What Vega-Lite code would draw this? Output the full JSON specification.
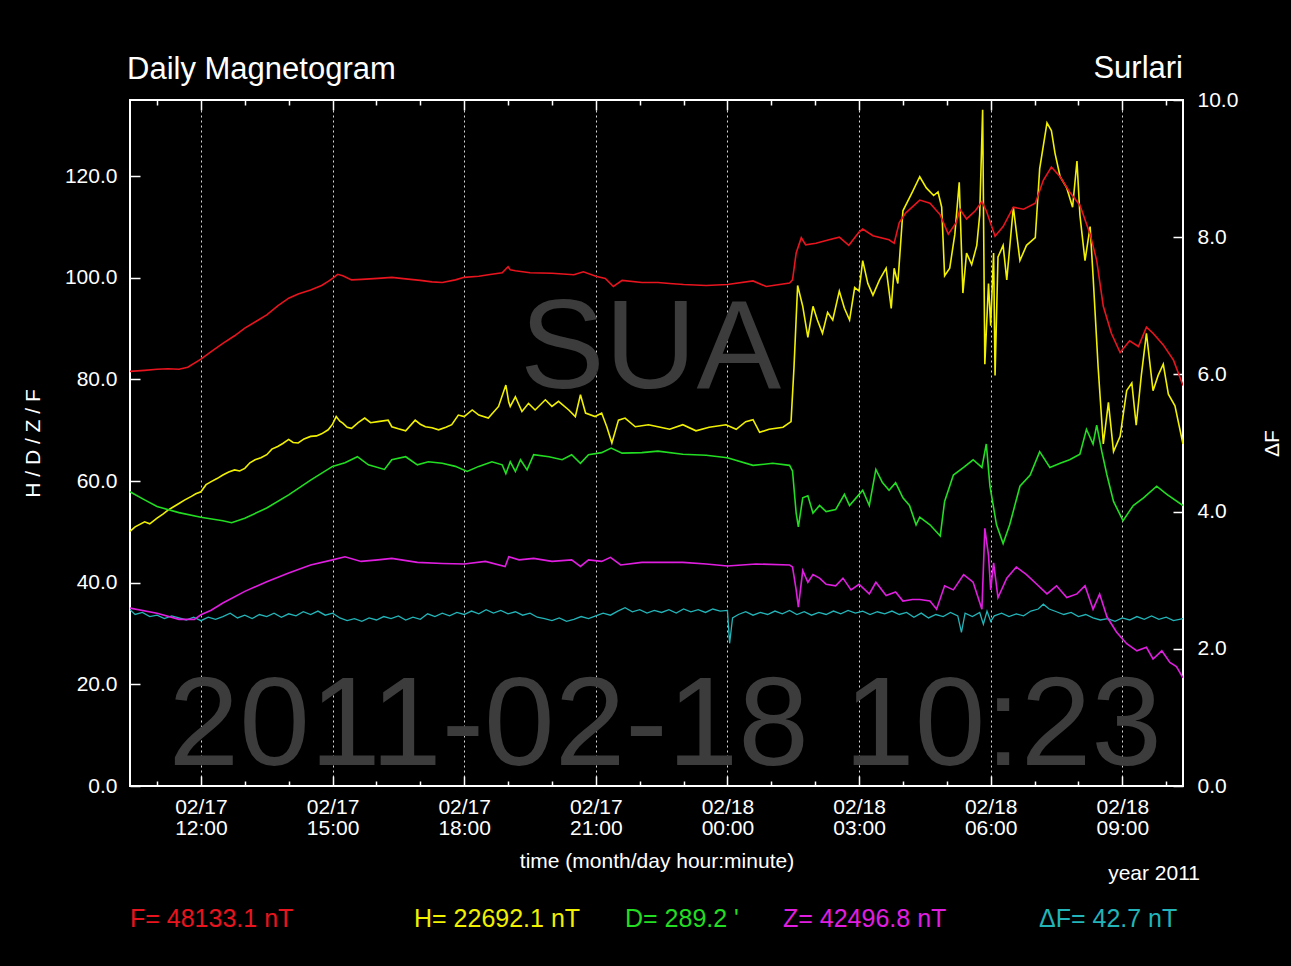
{
  "$schema": "https://vega.github.io/schema/vega-lite/v6.json",
  "width": 1053,
  "height": 686,
  "autosize": {"type": "none"},
  "padding": {"left": 130, "top": 100, "right": 108, "bottom": 180},
  "background": "#000000",
  "title": {"text": "Daily Magnetogram", "anchor": "start", "frame": "group", "baseline": "alphabetic", "fontSize": 31, "fontWeight": "normal", "font": "Liberation Sans", "color": "#ffffff", "offset": -57, "dx": -3},
  "config": {"font": "Liberation Sans", "view": {"stroke": "#ffffff", "strokeWidth": 2}},
  "datasets": {
    "m": [
      {"t":"2011-02-17T10:23","s":"H","v":50.1},{"t":"2011-02-17T10:30","s":"H","v":51.0},{"t":"2011-02-17T10:43","s":"H","v":52.0},{"t":"2011-02-17T10:50","s":"H","v":51.6},{"t":"2011-02-17T11:00","s":"H","v":52.7},{"t":"2011-02-17T11:08","s":"H","v":53.5},{"t":"2011-02-17T11:15","s":"H","v":54.3},{"t":"2011-02-17T11:22","s":"H","v":54.9},{"t":"2011-02-17T11:30","s":"H","v":55.6},{"t":"2011-02-17T11:38","s":"H","v":56.3},{"t":"2011-02-17T11:47","s":"H","v":57.0},{"t":"2011-02-17T11:53","s":"H","v":57.5},{"t":"2011-02-17T12:00","s":"H","v":57.9},{"t":"2011-02-17T12:07","s":"H","v":59.3},{"t":"2011-02-17T12:14","s":"H","v":59.9},{"t":"2011-02-17T12:22","s":"H","v":60.5},{"t":"2011-02-17T12:30","s":"H","v":61.2},{"t":"2011-02-17T12:38","s":"H","v":61.8},{"t":"2011-02-17T12:46","s":"H","v":62.2},{"t":"2011-02-17T12:53","s":"H","v":62.0},{"t":"2011-02-17T13:00","s":"H","v":62.5},{"t":"2011-02-17T13:07","s":"H","v":63.6},{"t":"2011-02-17T13:14","s":"H","v":64.2},{"t":"2011-02-17T13:22","s":"H","v":64.6},{"t":"2011-02-17T13:30","s":"H","v":65.2},{"t":"2011-02-17T13:37","s":"H","v":66.3},{"t":"2011-02-17T13:45","s":"H","v":66.8},{"t":"2011-02-17T13:52","s":"H","v":67.4},{"t":"2011-02-17T14:00","s":"H","v":68.2},{"t":"2011-02-17T14:06","s":"H","v":67.6},{"t":"2011-02-17T14:13","s":"H","v":67.5},{"t":"2011-02-17T14:21","s":"H","v":68.3},{"t":"2011-02-17T14:30","s":"H","v":68.8},{"t":"2011-02-17T14:38","s":"H","v":68.9},{"t":"2011-02-17T14:45","s":"H","v":69.3},{"t":"2011-02-17T14:54","s":"H","v":70.1},{"t":"2011-02-17T15:00","s":"H","v":71.2},{"t":"2011-02-17T15:05","s":"H","v":72.7},{"t":"2011-02-17T15:10","s":"H","v":71.8},{"t":"2011-02-17T15:14","s":"H","v":71.4},{"t":"2011-02-17T15:20","s":"H","v":70.6},{"t":"2011-02-17T15:26","s":"H","v":70.4},{"t":"2011-02-17T15:35","s":"H","v":71.5},{"t":"2011-02-17T15:44","s":"H","v":72.4},{"t":"2011-02-17T15:52","s":"H","v":71.5},{"t":"2011-02-17T16:02","s":"H","v":71.7},{"t":"2011-02-17T16:16","s":"H","v":72.0},{"t":"2011-02-17T16:21","s":"H","v":70.7},{"t":"2011-02-17T16:30","s":"H","v":70.3},{"t":"2011-02-17T16:40","s":"H","v":69.9},{"t":"2011-02-17T16:53","s":"H","v":72.0},{"t":"2011-02-17T17:00","s":"H","v":71.2},{"t":"2011-02-17T17:07","s":"H","v":70.7},{"t":"2011-02-17T17:16","s":"H","v":70.5},{"t":"2011-02-17T17:25","s":"H","v":70.1},{"t":"2011-02-17T17:35","s":"H","v":70.6},{"t":"2011-02-17T17:43","s":"H","v":71.1},{"t":"2011-02-17T17:52","s":"H","v":73.0},{"t":"2011-02-17T18:00","s":"H","v":72.7},{"t":"2011-02-17T18:11","s":"H","v":74.0},{"t":"2011-02-17T18:20","s":"H","v":73.0},{"t":"2011-02-17T18:33","s":"H","v":72.4},{"t":"2011-02-17T18:47","s":"H","v":74.7},{"t":"2011-02-17T18:57","s":"H","v":78.9},{"t":"2011-02-17T19:01","s":"H","v":75.5},{"t":"2011-02-17T19:03","s":"H","v":74.7},{"t":"2011-02-17T19:10","s":"H","v":76.6},{"t":"2011-02-17T19:19","s":"H","v":73.7},{"t":"2011-02-17T19:28","s":"H","v":75.3},{"t":"2011-02-17T19:37","s":"H","v":74.0},{"t":"2011-02-17T19:51","s":"H","v":76.0},{"t":"2011-02-17T20:00","s":"H","v":74.7},{"t":"2011-02-17T20:09","s":"H","v":75.7},{"t":"2011-02-17T20:23","s":"H","v":74.0},{"t":"2011-02-17T20:32","s":"H","v":72.7},{"t":"2011-02-17T20:39","s":"H","v":77.0},{"t":"2011-02-17T20:46","s":"H","v":73.4},{"t":"2011-02-17T20:59","s":"H","v":72.7},{"t":"2011-02-17T21:08","s":"H","v":73.4},{"t":"2011-02-17T21:15","s":"H","v":70.7},{"t":"2011-02-17T21:22","s":"H","v":67.5},{"t":"2011-02-17T21:31","s":"H","v":72.0},{"t":"2011-02-17T21:40","s":"H","v":72.4},{"t":"2011-02-17T21:54","s":"H","v":70.7},{"t":"2011-02-17T22:12","s":"H","v":71.1},{"t":"2011-02-17T22:25","s":"H","v":70.7},{"t":"2011-02-17T22:41","s":"H","v":70.2},{"t":"2011-02-17T22:59","s":"H","v":71.1},{"t":"2011-02-17T23:17","s":"H","v":69.9},{"t":"2011-02-17T23:35","s":"H","v":70.6},{"t":"2011-02-17T23:58","s":"H","v":71.1},{"t":"2011-02-18T00:12","s":"H","v":70.2},{"t":"2011-02-18T00:25","s":"H","v":71.7},{"t":"2011-02-18T00:35","s":"H","v":72.1},{"t":"2011-02-18T00:44","s":"H","v":69.6},{"t":"2011-02-18T00:57","s":"H","v":70.2},{"t":"2011-02-18T01:16","s":"H","v":70.6},{"t":"2011-02-18T01:27","s":"H","v":71.7},{"t":"2011-02-18T01:31","s":"H","v":82.3},{"t":"2011-02-18T01:36","s":"H","v":98.5},{"t":"2011-02-18T01:43","s":"H","v":94.4},{"t":"2011-02-18T01:50","s":"H","v":88.3},{"t":"2011-02-18T01:57","s":"H","v":94.4},{"t":"2011-02-18T02:03","s":"H","v":91.7},{"t":"2011-02-18T02:10","s":"H","v":89.1},{"t":"2011-02-18T02:17","s":"H","v":93.2},{"t":"2011-02-18T02:24","s":"H","v":91.7},{"t":"2011-02-18T02:33","s":"H","v":97.4},{"t":"2011-02-18T02:40","s":"H","v":94.0},{"t":"2011-02-18T02:47","s":"H","v":91.7},{"t":"2011-02-18T02:54","s":"H","v":98.1},{"t":"2011-02-18T03:00","s":"H","v":97.4},{"t":"2011-02-18T03:05","s":"H","v":103.4},{"t":"2011-02-18T03:12","s":"H","v":98.9},{"t":"2011-02-18T03:19","s":"H","v":96.6},{"t":"2011-02-18T03:28","s":"H","v":99.6},{"t":"2011-02-18T03:37","s":"H","v":101.9},{"t":"2011-02-18T03:44","s":"H","v":94.0},{"t":"2011-02-18T03:48","s":"H","v":101.9},{"t":"2011-02-18T03:53","s":"H","v":98.9},{"t":"2011-02-18T04:00","s":"H","v":113.2},{"t":"2011-02-18T04:13","s":"H","v":116.9},{"t":"2011-02-18T04:23","s":"H","v":119.9},{"t":"2011-02-18T04:32","s":"H","v":117.7},{"t":"2011-02-18T04:42","s":"H","v":116.2},{"t":"2011-02-18T04:48","s":"H","v":116.9},{"t":"2011-02-18T04:53","s":"H","v":113.9},{"t":"2011-02-18T04:57","s":"H","v":100.4},{"t":"2011-02-18T05:04","s":"H","v":101.9},{"t":"2011-02-18T05:11","s":"H","v":108.6},{"t":"2011-02-18T05:17","s":"H","v":118.8},{"t":"2011-02-18T05:22","s":"H","v":97.0},{"t":"2011-02-18T05:27","s":"H","v":104.9},{"t":"2011-02-18T05:34","s":"H","v":102.6},{"t":"2011-02-18T05:41","s":"H","v":106.4},{"t":"2011-02-18T05:45","s":"H","v":112.4},{"t":"2011-02-18T05:49","s":"H","v":133.1},{"t":"2011-02-18T05:52","s":"H","v":83.0},{"t":"2011-02-18T05:57","s":"H","v":98.9},{"t":"2011-02-18T06:00","s":"H","v":90.6},{"t":"2011-02-18T06:04","s":"H","v":104.9},{"t":"2011-02-18T06:06","s":"H","v":80.8},{"t":"2011-02-18T06:10","s":"H","v":104.1},{"t":"2011-02-18T06:17","s":"H","v":106.4},{"t":"2011-02-18T06:22","s":"H","v":99.6},{"t":"2011-02-18T06:31","s":"H","v":113.9},{"t":"2011-02-18T06:40","s":"H","v":103.4},{"t":"2011-02-18T06:49","s":"H","v":106.4},{"t":"2011-02-18T07:01","s":"H","v":107.9},{"t":"2011-02-18T07:07","s":"H","v":121.5},{"t":"2011-02-18T07:17","s":"H","v":130.5},{"t":"2011-02-18T07:23","s":"H","v":129.0},{"t":"2011-02-18T07:28","s":"H","v":124.5},{"t":"2011-02-18T07:35","s":"H","v":119.9},{"t":"2011-02-18T07:44","s":"H","v":117.7},{"t":"2011-02-18T07:52","s":"H","v":113.9},{"t":"2011-02-18T07:58","s":"H","v":123.0},{"t":"2011-02-18T08:02","s":"H","v":112.4},{"t":"2011-02-18T08:09","s":"H","v":103.4},{"t":"2011-02-18T08:16","s":"H","v":110.1},{"t":"2011-02-18T08:20","s":"H","v":100.4},{"t":"2011-02-18T08:27","s":"H","v":82.3},{"t":"2011-02-18T08:34","s":"H","v":67.3},{"t":"2011-02-18T08:41","s":"H","v":75.5},{"t":"2011-02-18T08:48","s":"H","v":65.8},{"t":"2011-02-18T08:57","s":"H","v":68.8},{"t":"2011-02-18T09:06","s":"H","v":77.8},{"t":"2011-02-18T09:13","s":"H","v":79.3},{"t":"2011-02-18T09:19","s":"H","v":71.0},{"t":"2011-02-18T09:26","s":"H","v":80.8},{"t":"2011-02-18T09:33","s":"H","v":89.1},{"t":"2011-02-18T09:42","s":"H","v":77.8},{"t":"2011-02-18T09:49","s":"H","v":80.8},{"t":"2011-02-18T09:56","s":"H","v":83.0},{"t":"2011-02-18T10:03","s":"H","v":77.1},{"t":"2011-02-18T10:12","s":"H","v":74.8},{"t":"2011-02-18T10:23","s":"H","v":67.3},

      {"t":"2011-02-17T10:23","s":"D","v":57.9},{"t":"2011-02-17T10:43","s":"D","v":56.3},{"t":"2011-02-17T11:00","s":"D","v":55.0},{"t":"2011-02-17T11:30","s":"D","v":53.8},{"t":"2011-02-17T12:00","s":"D","v":52.9},{"t":"2011-02-17T12:30","s":"D","v":52.2},{"t":"2011-02-17T12:42","s":"D","v":51.8},{"t":"2011-02-17T13:00","s":"D","v":52.7},{"t":"2011-02-17T13:30","s":"D","v":54.7},{"t":"2011-02-17T14:00","s":"D","v":57.3},{"t":"2011-02-17T14:30","s":"D","v":60.2},{"t":"2011-02-17T15:00","s":"D","v":62.9},{"t":"2011-02-17T15:17","s":"D","v":63.6},{"t":"2011-02-17T15:34","s":"D","v":64.8},{"t":"2011-02-17T15:49","s":"D","v":63.2},{"t":"2011-02-17T16:11","s":"D","v":62.3},{"t":"2011-02-17T16:21","s":"D","v":64.2},{"t":"2011-02-17T16:40","s":"D","v":64.8},{"t":"2011-02-17T16:56","s":"D","v":63.2},{"t":"2011-02-17T17:11","s":"D","v":63.8},{"t":"2011-02-17T17:30","s":"D","v":63.5},{"t":"2011-02-17T17:48","s":"D","v":62.9},{"t":"2011-02-17T18:04","s":"D","v":61.9},{"t":"2011-02-17T18:20","s":"D","v":62.9},{"t":"2011-02-17T18:38","s":"D","v":63.8},{"t":"2011-02-17T18:52","s":"D","v":63.2},{"t":"2011-02-17T18:57","s":"D","v":61.5},{"t":"2011-02-17T19:03","s":"D","v":63.8},{"t":"2011-02-17T19:10","s":"D","v":61.9},{"t":"2011-02-17T19:17","s":"D","v":64.2},{"t":"2011-02-17T19:26","s":"D","v":62.2},{"t":"2011-02-17T19:35","s":"D","v":65.2},{"t":"2011-02-17T19:56","s":"D","v":64.8},{"t":"2011-02-17T20:14","s":"D","v":64.2},{"t":"2011-02-17T20:27","s":"D","v":65.2},{"t":"2011-02-17T20:39","s":"D","v":63.5},{"t":"2011-02-17T20:50","s":"D","v":65.2},{"t":"2011-02-17T21:08","s":"D","v":65.6},{"t":"2011-02-17T21:21","s":"D","v":66.5},{"t":"2011-02-17T21:36","s":"D","v":65.5},{"t":"2011-02-17T22:03","s":"D","v":65.6},{"t":"2011-02-17T22:25","s":"D","v":65.9},{"t":"2011-02-17T22:59","s":"D","v":65.3},{"t":"2011-02-17T23:31","s":"D","v":65.1},{"t":"2011-02-18T00:00","s":"D","v":64.6},{"t":"2011-02-18T00:35","s":"D","v":63.1},{"t":"2011-02-18T01:02","s":"D","v":63.5},{"t":"2011-02-18T01:25","s":"D","v":63.1},{"t":"2011-02-18T01:29","s":"D","v":62.0},{"t":"2011-02-18T01:34","s":"D","v":53.7},{"t":"2011-02-18T01:37","s":"D","v":51.0},{"t":"2011-02-18T01:43","s":"D","v":56.7},{"t":"2011-02-18T01:50","s":"D","v":57.1},{"t":"2011-02-18T01:57","s":"D","v":53.7},{"t":"2011-02-18T02:06","s":"D","v":55.2},{"t":"2011-02-18T02:15","s":"D","v":54.0},{"t":"2011-02-18T02:28","s":"D","v":54.4},{"t":"2011-02-18T02:40","s":"D","v":57.4},{"t":"2011-02-18T02:47","s":"D","v":55.2},{"t":"2011-02-18T02:56","s":"D","v":56.7},{"t":"2011-02-18T03:05","s":"D","v":58.2},{"t":"2011-02-18T03:14","s":"D","v":55.2},{"t":"2011-02-18T03:23","s":"D","v":62.3},{"t":"2011-02-18T03:32","s":"D","v":59.7},{"t":"2011-02-18T03:41","s":"D","v":58.2},{"t":"2011-02-18T03:50","s":"D","v":59.7},{"t":"2011-02-18T04:00","s":"D","v":56.7},{"t":"2011-02-18T04:09","s":"D","v":55.2},{"t":"2011-02-18T04:18","s":"D","v":51.4},{"t":"2011-02-18T04:23","s":"D","v":52.9},{"t":"2011-02-18T04:37","s":"D","v":51.4},{"t":"2011-02-18T04:51","s":"D","v":49.2},{"t":"2011-02-18T04:57","s":"D","v":56.0},{"t":"2011-02-18T05:09","s":"D","v":61.2},{"t":"2011-02-18T05:23","s":"D","v":62.7},{"t":"2011-02-18T05:36","s":"D","v":64.2},{"t":"2011-02-18T05:48","s":"D","v":62.7},{"t":"2011-02-18T05:54","s":"D","v":67.3},{"t":"2011-02-18T05:59","s":"D","v":59.0},{"t":"2011-02-18T06:08","s":"D","v":51.4},{"t":"2011-02-18T06:17","s":"D","v":47.7},{"t":"2011-02-18T06:26","s":"D","v":51.4},{"t":"2011-02-18T06:40","s":"D","v":59.0},{"t":"2011-02-18T06:54","s":"D","v":61.2},{"t":"2011-02-18T07:07","s":"D","v":65.8},{"t":"2011-02-18T07:21","s":"D","v":62.7},{"t":"2011-02-18T07:35","s":"D","v":63.5},{"t":"2011-02-18T07:48","s":"D","v":64.2},{"t":"2011-02-18T08:02","s":"D","v":65.3},{"t":"2011-02-18T08:11","s":"D","v":70.2},{"t":"2011-02-18T08:20","s":"D","v":67.3},{"t":"2011-02-18T08:25","s":"D","v":71.0},{"t":"2011-02-18T08:32","s":"D","v":65.8},{"t":"2011-02-18T08:39","s":"D","v":61.2},{"t":"2011-02-18T08:48","s":"D","v":56.0},{"t":"2011-02-18T09:01","s":"D","v":52.2},{"t":"2011-02-18T09:15","s":"D","v":55.2},{"t":"2011-02-18T09:29","s":"D","v":56.7},{"t":"2011-02-18T09:47","s":"D","v":59.0},{"t":"2011-02-18T10:01","s":"D","v":57.4},{"t":"2011-02-18T10:23","s":"D","v":55.2},

      {"t":"2011-02-17T10:23","s":"Z","v":35.0},{"t":"2011-02-17T11:00","s":"Z","v":34.0},{"t":"2011-02-17T11:30","s":"Z","v":32.8},{"t":"2011-02-17T11:51","s":"Z","v":32.8},{"t":"2011-02-17T12:00","s":"Z","v":33.7},{"t":"2011-02-17T12:14","s":"Z","v":34.6},{"t":"2011-02-17T12:30","s":"Z","v":36.0},{"t":"2011-02-17T13:00","s":"Z","v":38.3},{"t":"2011-02-17T13:30","s":"Z","v":40.2},{"t":"2011-02-17T14:00","s":"Z","v":41.9},{"t":"2011-02-17T14:30","s":"Z","v":43.5},{"t":"2011-02-17T15:00","s":"Z","v":44.5},{"t":"2011-02-17T15:17","s":"Z","v":45.1},{"t":"2011-02-17T15:39","s":"Z","v":44.2},{"t":"2011-02-17T16:02","s":"Z","v":44.5},{"t":"2011-02-17T16:21","s":"Z","v":44.8},{"t":"2011-02-17T16:56","s":"Z","v":44.0},{"t":"2011-02-17T17:30","s":"Z","v":43.8},{"t":"2011-02-17T18:00","s":"Z","v":43.7},{"t":"2011-02-17T18:29","s":"Z","v":44.2},{"t":"2011-02-17T18:56","s":"Z","v":43.2},{"t":"2011-02-17T19:01","s":"Z","v":45.1},{"t":"2011-02-17T19:15","s":"Z","v":44.5},{"t":"2011-02-17T19:35","s":"Z","v":44.8},{"t":"2011-02-17T20:00","s":"Z","v":44.2},{"t":"2011-02-17T20:27","s":"Z","v":44.5},{"t":"2011-02-17T20:39","s":"Z","v":43.2},{"t":"2011-02-17T20:50","s":"Z","v":44.5},{"t":"2011-02-17T21:08","s":"Z","v":44.2},{"t":"2011-02-17T21:20","s":"Z","v":45.0},{"t":"2011-02-17T21:34","s":"Z","v":43.5},{"t":"2011-02-17T22:03","s":"Z","v":44.0},{"t":"2011-02-17T22:59","s":"Z","v":44.0},{"t":"2011-02-17T23:31","s":"Z","v":43.7},{"t":"2011-02-18T00:00","s":"Z","v":43.3},{"t":"2011-02-18T00:39","s":"Z","v":43.7},{"t":"2011-02-18T01:25","s":"Z","v":43.5},{"t":"2011-02-18T01:29","s":"Z","v":43.1},{"t":"2011-02-18T01:34","s":"Z","v":38.6},{"t":"2011-02-18T01:37","s":"Z","v":35.2},{"t":"2011-02-18T01:43","s":"Z","v":42.4},{"t":"2011-02-18T01:50","s":"Z","v":40.1},{"t":"2011-02-18T01:57","s":"Z","v":41.6},{"t":"2011-02-18T02:06","s":"Z","v":40.9},{"t":"2011-02-18T02:15","s":"Z","v":39.7},{"t":"2011-02-18T02:28","s":"Z","v":39.4},{"t":"2011-02-18T02:38","s":"Z","v":40.9},{"t":"2011-02-18T02:49","s":"Z","v":38.6},{"t":"2011-02-18T03:00","s":"Z","v":39.7},{"t":"2011-02-18T03:14","s":"Z","v":37.8},{"t":"2011-02-18T03:23","s":"Z","v":40.1},{"t":"2011-02-18T03:37","s":"Z","v":37.5},{"t":"2011-02-18T03:50","s":"Z","v":38.2},{"t":"2011-02-18T04:00","s":"Z","v":36.4},{"t":"2011-02-18T04:13","s":"Z","v":36.7},{"t":"2011-02-18T04:23","s":"Z","v":36.7},{"t":"2011-02-18T04:37","s":"Z","v":36.4},{"t":"2011-02-18T04:46","s":"Z","v":34.8},{"t":"2011-02-18T04:57","s":"Z","v":39.4},{"t":"2011-02-18T05:09","s":"Z","v":38.6},{"t":"2011-02-18T05:23","s":"Z","v":41.6},{"t":"2011-02-18T05:36","s":"Z","v":40.1},{"t":"2011-02-18T05:48","s":"Z","v":34.8},{"t":"2011-02-18T05:52","s":"Z","v":50.7},{"t":"2011-02-18T05:57","s":"Z","v":45.4},{"t":"2011-02-18T06:00","s":"Z","v":38.6},{"t":"2011-02-18T06:04","s":"Z","v":43.9},{"t":"2011-02-18T06:10","s":"Z","v":37.1},{"t":"2011-02-18T06:22","s":"Z","v":40.9},{"t":"2011-02-18T06:35","s":"Z","v":43.1},{"t":"2011-02-18T06:49","s":"Z","v":41.6},{"t":"2011-02-18T07:03","s":"Z","v":39.7},{"t":"2011-02-18T07:17","s":"Z","v":37.8},{"t":"2011-02-18T07:30","s":"Z","v":39.4},{"t":"2011-02-18T07:44","s":"Z","v":37.1},{"t":"2011-02-18T07:58","s":"Z","v":37.8},{"t":"2011-02-18T08:09","s":"Z","v":39.4},{"t":"2011-02-18T08:20","s":"Z","v":34.8},{"t":"2011-02-18T08:29","s":"Z","v":37.8},{"t":"2011-02-18T08:39","s":"Z","v":33.3},{"t":"2011-02-18T08:52","s":"Z","v":30.3},{"t":"2011-02-18T09:06","s":"Z","v":28.0},{"t":"2011-02-18T09:20","s":"Z","v":26.6},{"t":"2011-02-18T09:33","s":"Z","v":27.3},{"t":"2011-02-18T09:42","s":"Z","v":25.0},{"t":"2011-02-18T09:54","s":"Z","v":26.6},{"t":"2011-02-18T10:05","s":"Z","v":24.3},{"t":"2011-02-18T10:14","s":"Z","v":23.5},{"t":"2011-02-18T10:23","s":"Z","v":21.3},

      {"t":"2011-02-17T10:23","s":"F","v":81.6},{"t":"2011-02-17T10:43","s":"F","v":81.8},{"t":"2011-02-17T11:00","s":"F","v":82.0},{"t":"2011-02-17T11:15","s":"F","v":82.1},{"t":"2011-02-17T11:30","s":"F","v":82.0},{"t":"2011-02-17T11:42","s":"F","v":82.4},{"t":"2011-02-17T12:00","s":"F","v":84.0},{"t":"2011-02-17T12:14","s":"F","v":85.5},{"t":"2011-02-17T12:30","s":"F","v":87.1},{"t":"2011-02-17T12:46","s":"F","v":88.6},{"t":"2011-02-17T13:00","s":"F","v":90.1},{"t":"2011-02-17T13:14","s":"F","v":91.3},{"t":"2011-02-17T13:30","s":"F","v":92.7},{"t":"2011-02-17T13:45","s":"F","v":94.5},{"t":"2011-02-17T14:00","s":"F","v":96.0},{"t":"2011-02-17T14:13","s":"F","v":96.8},{"t":"2011-02-17T14:30","s":"F","v":97.6},{"t":"2011-02-17T14:45","s":"F","v":98.5},{"t":"2011-02-17T14:54","s":"F","v":99.3},{"t":"2011-02-17T15:00","s":"F","v":99.9},{"t":"2011-02-17T15:07","s":"F","v":100.7},{"t":"2011-02-17T15:14","s":"F","v":100.4},{"t":"2011-02-17T15:26","s":"F","v":99.6},{"t":"2011-02-17T15:40","s":"F","v":99.7},{"t":"2011-02-17T16:02","s":"F","v":99.9},{"t":"2011-02-17T16:21","s":"F","v":100.1},{"t":"2011-02-17T16:40","s":"F","v":99.8},{"t":"2011-02-17T17:00","s":"F","v":99.5},{"t":"2011-02-17T17:16","s":"F","v":99.2},{"t":"2011-02-17T17:30","s":"F","v":99.1},{"t":"2011-02-17T17:48","s":"F","v":99.6},{"t":"2011-02-17T18:00","s":"F","v":100.1},{"t":"2011-02-17T18:20","s":"F","v":100.3},{"t":"2011-02-17T18:33","s":"F","v":100.6},{"t":"2011-02-17T18:52","s":"F","v":101.0},{"t":"2011-02-17T19:00","s":"F","v":102.2},{"t":"2011-02-17T19:03","s":"F","v":101.6},{"t":"2011-02-17T19:10","s":"F","v":101.4},{"t":"2011-02-17T19:30","s":"F","v":101.0},{"t":"2011-02-17T20:00","s":"F","v":100.9},{"t":"2011-02-17T20:30","s":"F","v":100.6},{"t":"2011-02-17T20:43","s":"F","v":101.2},{"t":"2011-02-17T21:00","s":"F","v":100.3},{"t":"2011-02-17T21:13","s":"F","v":99.9},{"t":"2011-02-17T21:24","s":"F","v":98.3},{"t":"2011-02-17T21:36","s":"F","v":99.5},{"t":"2011-02-17T22:03","s":"F","v":99.1},{"t":"2011-02-17T22:25","s":"F","v":99.1},{"t":"2011-02-17T22:41","s":"F","v":98.9},{"t":"2011-02-17T23:00","s":"F","v":98.7},{"t":"2011-02-17T23:31","s":"F","v":98.5},{"t":"2011-02-18T00:00","s":"F","v":98.7},{"t":"2011-02-18T00:35","s":"F","v":99.4},{"t":"2011-02-18T00:53","s":"F","v":98.3},{"t":"2011-02-18T01:25","s":"F","v":99.0},{"t":"2011-02-18T01:29","s":"F","v":99.6},{"t":"2011-02-18T01:34","s":"F","v":104.9},{"t":"2011-02-18T01:41","s":"F","v":107.9},{"t":"2011-02-18T01:47","s":"F","v":106.5},{"t":"2011-02-18T02:01","s":"F","v":106.8},{"t":"2011-02-18T02:19","s":"F","v":107.5},{"t":"2011-02-18T02:33","s":"F","v":108.0},{"t":"2011-02-18T02:46","s":"F","v":106.4},{"t":"2011-02-18T03:00","s":"F","v":109.0},{"t":"2011-02-18T03:05","s":"F","v":109.6},{"t":"2011-02-18T03:19","s":"F","v":108.3},{"t":"2011-02-18T03:41","s":"F","v":107.5},{"t":"2011-02-18T03:48","s":"F","v":106.8},{"t":"2011-02-18T03:55","s":"F","v":110.9},{"t":"2011-02-18T04:04","s":"F","v":112.8},{"t":"2011-02-18T04:23","s":"F","v":115.3},{"t":"2011-02-18T04:37","s":"F","v":114.7},{"t":"2011-02-18T04:51","s":"F","v":112.4},{"t":"2011-02-18T05:02","s":"F","v":108.6},{"t":"2011-02-18T05:13","s":"F","v":110.9},{"t":"2011-02-18T05:18","s":"F","v":113.5},{"t":"2011-02-18T05:27","s":"F","v":111.6},{"t":"2011-02-18T05:39","s":"F","v":113.2},{"t":"2011-02-18T05:48","s":"F","v":115.0},{"t":"2011-02-18T05:54","s":"F","v":113.2},{"t":"2011-02-18T06:06","s":"F","v":108.2},{"t":"2011-02-18T06:17","s":"F","v":110.1},{"t":"2011-02-18T06:31","s":"F","v":113.9},{"t":"2011-02-18T06:45","s":"F","v":113.5},{"t":"2011-02-18T07:01","s":"F","v":114.7},{"t":"2011-02-18T07:12","s":"F","v":119.2},{"t":"2011-02-18T07:23","s":"F","v":121.8},{"t":"2011-02-18T07:35","s":"F","v":119.9},{"t":"2011-02-18T07:48","s":"F","v":116.9},{"t":"2011-02-18T08:02","s":"F","v":114.3},{"t":"2011-02-18T08:16","s":"F","v":108.6},{"t":"2011-02-18T08:25","s":"F","v":103.4},{"t":"2011-02-18T08:34","s":"F","v":94.4},{"t":"2011-02-18T08:45","s":"F","v":89.1},{"t":"2011-02-18T08:57","s":"F","v":85.3},{"t":"2011-02-18T09:10","s":"F","v":87.6},{"t":"2011-02-18T09:22","s":"F","v":86.5},{"t":"2011-02-18T09:33","s":"F","v":90.3},{"t":"2011-02-18T09:42","s":"F","v":89.1},{"t":"2011-02-18T09:56","s":"F","v":86.8},{"t":"2011-02-18T10:10","s":"F","v":83.8},{"t":"2011-02-18T10:23","s":"F","v":78.8}
    ],
    "d": [
      {"t":"2011-02-17T10:23","s":"ΔF","v":2.57},{"t":"2011-02-17T10:30","s":"ΔF","v":2.50},{"t":"2011-02-17T10:40","s":"ΔF","v":2.53},{"t":"2011-02-17T10:50","s":"ΔF","v":2.47},{"t":"2011-02-17T11:00","s":"ΔF","v":2.49},{"t":"2011-02-17T11:10","s":"ΔF","v":2.44},{"t":"2011-02-17T11:20","s":"ΔF","v":2.48},{"t":"2011-02-17T11:30","s":"ΔF","v":2.45},{"t":"2011-02-17T11:40","s":"ΔF","v":2.42},{"t":"2011-02-17T11:50","s":"ΔF","v":2.46},{"t":"2011-02-17T12:00","s":"ΔF","v":2.41},{"t":"2011-02-17T12:10","s":"ΔF","v":2.46},{"t":"2011-02-17T12:20","s":"ΔF","v":2.43},{"t":"2011-02-17T12:30","s":"ΔF","v":2.47},{"t":"2011-02-17T12:40","s":"ΔF","v":2.52},{"t":"2011-02-17T12:50","s":"ΔF","v":2.45},{"t":"2011-02-17T13:00","s":"ΔF","v":2.49},{"t":"2011-02-17T13:10","s":"ΔF","v":2.44},{"t":"2011-02-17T13:20","s":"ΔF","v":2.50},{"t":"2011-02-17T13:30","s":"ΔF","v":2.47},{"t":"2011-02-17T13:40","s":"ΔF","v":2.52},{"t":"2011-02-17T13:50","s":"ΔF","v":2.46},{"t":"2011-02-17T14:00","s":"ΔF","v":2.51},{"t":"2011-02-17T14:10","s":"ΔF","v":2.48},{"t":"2011-02-17T14:20","s":"ΔF","v":2.54},{"t":"2011-02-17T14:30","s":"ΔF","v":2.50},{"t":"2011-02-17T14:40","s":"ΔF","v":2.55},{"t":"2011-02-17T14:50","s":"ΔF","v":2.49},{"t":"2011-02-17T15:00","s":"ΔF","v":2.52},{"t":"2011-02-17T15:10","s":"ΔF","v":2.45},{"t":"2011-02-17T15:20","s":"ΔF","v":2.41},{"t":"2011-02-17T15:30","s":"ΔF","v":2.44},{"t":"2011-02-17T15:40","s":"ΔF","v":2.40},{"t":"2011-02-17T15:50","s":"ΔF","v":2.45},{"t":"2011-02-17T16:00","s":"ΔF","v":2.42},{"t":"2011-02-17T16:10","s":"ΔF","v":2.47},{"t":"2011-02-17T16:20","s":"ΔF","v":2.44},{"t":"2011-02-17T16:30","s":"ΔF","v":2.48},{"t":"2011-02-17T16:40","s":"ΔF","v":2.42},{"t":"2011-02-17T16:50","s":"ΔF","v":2.46},{"t":"2011-02-17T17:00","s":"ΔF","v":2.43},{"t":"2011-02-17T17:10","s":"ΔF","v":2.51},{"t":"2011-02-17T17:20","s":"ΔF","v":2.47},{"t":"2011-02-17T17:30","s":"ΔF","v":2.52},{"t":"2011-02-17T17:40","s":"ΔF","v":2.48},{"t":"2011-02-17T17:50","s":"ΔF","v":2.53},{"t":"2011-02-17T18:00","s":"ΔF","v":2.50},{"t":"2011-02-17T18:10","s":"ΔF","v":2.55},{"t":"2011-02-17T18:20","s":"ΔF","v":2.51},{"t":"2011-02-17T18:30","s":"ΔF","v":2.57},{"t":"2011-02-17T18:40","s":"ΔF","v":2.52},{"t":"2011-02-17T18:50","s":"ΔF","v":2.56},{"t":"2011-02-17T19:00","s":"ΔF","v":2.51},{"t":"2011-02-17T19:10","s":"ΔF","v":2.54},{"t":"2011-02-17T19:20","s":"ΔF","v":2.49},{"t":"2011-02-17T19:30","s":"ΔF","v":2.52},{"t":"2011-02-17T19:40","s":"ΔF","v":2.46},{"t":"2011-02-17T19:50","s":"ΔF","v":2.44},{"t":"2011-02-17T20:00","s":"ΔF","v":2.41},{"t":"2011-02-17T20:10","s":"ΔF","v":2.45},{"t":"2011-02-17T20:20","s":"ΔF","v":2.40},{"t":"2011-02-17T20:30","s":"ΔF","v":2.43},{"t":"2011-02-17T20:40","s":"ΔF","v":2.47},{"t":"2011-02-17T20:50","s":"ΔF","v":2.44},{"t":"2011-02-17T21:00","s":"ΔF","v":2.48},{"t":"2011-02-17T21:10","s":"ΔF","v":2.52},{"t":"2011-02-17T21:20","s":"ΔF","v":2.49},{"t":"2011-02-17T21:30","s":"ΔF","v":2.55},{"t":"2011-02-17T21:40","s":"ΔF","v":2.60},{"t":"2011-02-17T21:50","s":"ΔF","v":2.54},{"t":"2011-02-17T22:00","s":"ΔF","v":2.57},{"t":"2011-02-17T22:10","s":"ΔF","v":2.52},{"t":"2011-02-17T22:20","s":"ΔF","v":2.56},{"t":"2011-02-17T22:30","s":"ΔF","v":2.53},{"t":"2011-02-17T22:40","s":"ΔF","v":2.57},{"t":"2011-02-17T22:50","s":"ΔF","v":2.52},{"t":"2011-02-17T23:00","s":"ΔF","v":2.58},{"t":"2011-02-17T23:10","s":"ΔF","v":2.54},{"t":"2011-02-17T23:20","s":"ΔF","v":2.57},{"t":"2011-02-17T23:30","s":"ΔF","v":2.53},{"t":"2011-02-17T23:40","s":"ΔF","v":2.58},{"t":"2011-02-17T23:50","s":"ΔF","v":2.55},{"t":"2011-02-18T00:00","s":"ΔF","v":2.56},{"t":"2011-02-18T00:03","s":"ΔF","v":2.08},{"t":"2011-02-18T00:07","s":"ΔF","v":2.45},{"t":"2011-02-18T00:15","s":"ΔF","v":2.50},{"t":"2011-02-18T00:25","s":"ΔF","v":2.54},{"t":"2011-02-18T00:35","s":"ΔF","v":2.49},{"t":"2011-02-18T00:45","s":"ΔF","v":2.53},{"t":"2011-02-18T00:55","s":"ΔF","v":2.50},{"t":"2011-02-18T01:05","s":"ΔF","v":2.55},{"t":"2011-02-18T01:15","s":"ΔF","v":2.51},{"t":"2011-02-18T01:25","s":"ΔF","v":2.56},{"t":"2011-02-18T01:35","s":"ΔF","v":2.50},{"t":"2011-02-18T01:45","s":"ΔF","v":2.54},{"t":"2011-02-18T01:55","s":"ΔF","v":2.49},{"t":"2011-02-18T02:05","s":"ΔF","v":2.53},{"t":"2011-02-18T02:15","s":"ΔF","v":2.50},{"t":"2011-02-18T02:25","s":"ΔF","v":2.55},{"t":"2011-02-18T02:35","s":"ΔF","v":2.51},{"t":"2011-02-18T02:45","s":"ΔF","v":2.56},{"t":"2011-02-18T02:55","s":"ΔF","v":2.52},{"t":"2011-02-18T03:05","s":"ΔF","v":2.55},{"t":"2011-02-18T03:15","s":"ΔF","v":2.50},{"t":"2011-02-18T03:25","s":"ΔF","v":2.54},{"t":"2011-02-18T03:35","s":"ΔF","v":2.51},{"t":"2011-02-18T03:45","s":"ΔF","v":2.55},{"t":"2011-02-18T03:55","s":"ΔF","v":2.50},{"t":"2011-02-18T04:05","s":"ΔF","v":2.53},{"t":"2011-02-18T04:15","s":"ΔF","v":2.46},{"t":"2011-02-18T04:25","s":"ΔF","v":2.52},{"t":"2011-02-18T04:35","s":"ΔF","v":2.45},{"t":"2011-02-18T04:45","s":"ΔF","v":2.50},{"t":"2011-02-18T04:55","s":"ΔF","v":2.47},{"t":"2011-02-18T05:05","s":"ΔF","v":2.53},{"t":"2011-02-18T05:15","s":"ΔF","v":2.48},{"t":"2011-02-18T05:20","s":"ΔF","v":2.24},{"t":"2011-02-18T05:25","s":"ΔF","v":2.52},{"t":"2011-02-18T05:35","s":"ΔF","v":2.47},{"t":"2011-02-18T05:45","s":"ΔF","v":2.53},{"t":"2011-02-18T05:50","s":"ΔF","v":2.36},{"t":"2011-02-18T05:55","s":"ΔF","v":2.55},{"t":"2011-02-18T06:00","s":"ΔF","v":2.40},{"t":"2011-02-18T06:05","s":"ΔF","v":2.48},{"t":"2011-02-18T06:15","s":"ΔF","v":2.52},{"t":"2011-02-18T06:25","s":"ΔF","v":2.47},{"t":"2011-02-18T06:35","s":"ΔF","v":2.51},{"t":"2011-02-18T06:45","s":"ΔF","v":2.48},{"t":"2011-02-18T06:55","s":"ΔF","v":2.55},{"t":"2011-02-18T07:05","s":"ΔF","v":2.58},{"t":"2011-02-18T07:12","s":"ΔF","v":2.65},{"t":"2011-02-18T07:20","s":"ΔF","v":2.58},{"t":"2011-02-18T07:30","s":"ΔF","v":2.54},{"t":"2011-02-18T07:40","s":"ΔF","v":2.50},{"t":"2011-02-18T07:50","s":"ΔF","v":2.53},{"t":"2011-02-18T08:00","s":"ΔF","v":2.47},{"t":"2011-02-18T08:10","s":"ΔF","v":2.50},{"t":"2011-02-18T08:20","s":"ΔF","v":2.45},{"t":"2011-02-18T08:30","s":"ΔF","v":2.42},{"t":"2011-02-18T08:40","s":"ΔF","v":2.44},{"t":"2011-02-18T08:50","s":"ΔF","v":2.40},{"t":"2011-02-18T09:00","s":"ΔF","v":2.45},{"t":"2011-02-18T09:10","s":"ΔF","v":2.42},{"t":"2011-02-18T09:20","s":"ΔF","v":2.47},{"t":"2011-02-18T09:30","s":"ΔF","v":2.43},{"t":"2011-02-18T09:40","s":"ΔF","v":2.48},{"t":"2011-02-18T09:50","s":"ΔF","v":2.43},{"t":"2011-02-18T10:00","s":"ΔF","v":2.46},{"t":"2011-02-18T10:10","s":"ΔF","v":2.41},{"t":"2011-02-18T10:23","s":"ΔF","v":2.44}
    ]
  },
  "resolve": {"scale": {"y": "independent"}, "axis": {"x": "independent", "y": "independent"}},
  "layer": [
    {
      "data": {"values": [{}]},
      "mark": {"type": "text", "text": "SUA", "font": "Liberation Sans", "fontSize": 127, "color": "#3c3c3c", "align": "center", "baseline": "alphabetic"},
      "encoding": {
        "x": {"datum": {"year": 2011, "month": 2, "date": 17, "hours": 22, "minutes": 15}, "type": "temporal", "scale": {"domain": [{"year": 2011, "month": 2, "date": 17, "hours": 10, "minutes": 23}, {"year": 2011, "month": 2, "date": 18, "hours": 10, "minutes": 23}]}, "axis": null},
        "y": {"datum": 78.3, "type": "quantitative", "scale": {"domain": [0, 135]}, "axis": null}
      }
    },
    {
      "data": {"values": [{}]},
      "mark": {"type": "text", "text": "2011-02-18 10:23", "font": "Liberation Sans", "fontSize": 127, "color": "#3c3c3c", "align": "center", "baseline": "alphabetic"},
      "encoding": {
        "x": {"datum": {"year": 2011, "month": 2, "date": 17, "hours": 22, "minutes": 35}, "type": "temporal", "scale": {"domain": [{"year": 2011, "month": 2, "date": 17, "hours": 10, "minutes": 23}, {"year": 2011, "month": 2, "date": 18, "hours": 10, "minutes": 23}]}, "axis": null},
        "y": {"datum": 4.2, "type": "quantitative", "scale": {"domain": [0, 135]}, "axis": null}
      }
    },
    {
      "data": {"name": "d"},
      "mark": {"type": "line", "strokeWidth": 1.3, "clip": true},
      "encoding": {
        "x": {"field": "t", "type": "temporal",
          "scale": {"domain": [{"year": 2011, "month": 2, "date": 17, "hours": 10, "minutes": 23}, {"year": 2011, "month": 2, "date": 18, "hours": 10, "minutes": 23}]},
          "axis": {"orient": "top", "values": [{"year":2011,"month":2,"date":17,"hours":11},{"year":2011,"month":2,"date":17,"hours":12},{"year":2011,"month":2,"date":17,"hours":13},{"year":2011,"month":2,"date":17,"hours":14},{"year":2011,"month":2,"date":17,"hours":15},{"year":2011,"month":2,"date":17,"hours":16},{"year":2011,"month":2,"date":17,"hours":17},{"year":2011,"month":2,"date":17,"hours":18},{"year":2011,"month":2,"date":17,"hours":19},{"year":2011,"month":2,"date":17,"hours":20},{"year":2011,"month":2,"date":17,"hours":21},{"year":2011,"month":2,"date":17,"hours":22},{"year":2011,"month":2,"date":17,"hours":23},{"year":2011,"month":2,"date":18,"hours":0},{"year":2011,"month":2,"date":18,"hours":1},{"year":2011,"month":2,"date":18,"hours":2},{"year":2011,"month":2,"date":18,"hours":3},{"year":2011,"month":2,"date":18,"hours":4},{"year":2011,"month":2,"date":18,"hours":5},{"year":2011,"month":2,"date":18,"hours":6},{"year":2011,"month":2,"date":18,"hours":7},{"year":2011,"month":2,"date":18,"hours":8},{"year":2011,"month":2,"date":18,"hours":9},{"year":2011,"month":2,"date":18,"hours":10}],
            "labels": false, "domain": false, "grid": false, "tickColor": "#ffffff", "tickWidth": 1.5,
            "tickSize": {"condition": {"test": "hours(datum.value) % 3 == 0", "value": -10}, "value": -5}, "title": null}
        },
        "y": {"field": "v", "type": "quantitative", "scale": {"domain": [0, 10]},
          "axis": {"orient": "right", "values": [0, 2, 4, 6, 8, 10], "format": ".1f", "domain": false, "grid": false,
            "tickColor": "#ffffff", "tickWidth": 1.5, "tickSize": -10, "labelFlush": false,
            "labelColor": "#ffffff", "labelFont": "Liberation Sans", "labelFontSize": 21, "labelPadding": 24,
            "title": "ΔF", "titleColor": "#ffffff", "titleFont": "Liberation Sans", "titleFontSize": 21, "titleFontWeight": "normal", "titleAngle": 270, "titlePadding": 45}
        },
        "color": {"field": "s", "type": "nominal",
          "scale": {"domain": ["F", "H", "D", "Z", "ΔF"], "range": ["#e8141e", "#f0f000", "#22dd22", "#e01ee0", "#22b4b8"]},
          "legend": {"orient": "none", "legendX": -25, "legendY": 806, "direction": "horizontal", "columns": 5, "title": null, "padding": 0,
            "symbolSize": 0, "symbolStrokeWidth": 0, "symbolOpacity": 0, "labelOffset": 0, "labelLimit": 0,
            "labelFont": "Liberation Sans", "labelFontSize": 25, "columnPadding": 19,
            "labelExpr": "datum.label == 'F' ? 'F= 48133.1 nT           \u200d' : datum.label == 'H' ? 'H= 22692.1 nT' : datum.label == 'D' ? \"D= 289.2 '\" : datum.label == 'Z' ? 'Z= 42496.8 nT       \u200d' : 'ΔF= 42.7 nT'",
            "encode": {"labels": {"update": {"fill": {"scale": "color", "field": "value"}}}}}
        }
      }
    },
    {
      "data": {"name": "m"},
      "mark": {"type": "line", "strokeWidth": 1.6, "clip": true},
      "encoding": {
        "x": {"field": "t", "type": "temporal",
          "scale": {"domain": [{"year": 2011, "month": 2, "date": 17, "hours": 10, "minutes": 23}, {"year": 2011, "month": 2, "date": 18, "hours": 10, "minutes": 23}]},
          "axis": {"orient": "bottom", "values": [{"year":2011,"month":2,"date":17,"hours":11},{"year":2011,"month":2,"date":17,"hours":12},{"year":2011,"month":2,"date":17,"hours":13},{"year":2011,"month":2,"date":17,"hours":14},{"year":2011,"month":2,"date":17,"hours":15},{"year":2011,"month":2,"date":17,"hours":16},{"year":2011,"month":2,"date":17,"hours":17},{"year":2011,"month":2,"date":17,"hours":18},{"year":2011,"month":2,"date":17,"hours":19},{"year":2011,"month":2,"date":17,"hours":20},{"year":2011,"month":2,"date":17,"hours":21},{"year":2011,"month":2,"date":17,"hours":22},{"year":2011,"month":2,"date":17,"hours":23},{"year":2011,"month":2,"date":18,"hours":0},{"year":2011,"month":2,"date":18,"hours":1},{"year":2011,"month":2,"date":18,"hours":2},{"year":2011,"month":2,"date":18,"hours":3},{"year":2011,"month":2,"date":18,"hours":4},{"year":2011,"month":2,"date":18,"hours":5},{"year":2011,"month":2,"date":18,"hours":6},{"year":2011,"month":2,"date":18,"hours":7},{"year":2011,"month":2,"date":18,"hours":8},{"year":2011,"month":2,"date":18,"hours":9},{"year":2011,"month":2,"date":18,"hours":10}],
            "domain": false, "grid": true, "gridColor": "#d8d8d8", "gridDash": [2, 3], "gridWidth": 1,
            "gridOpacity": {"condition": {"test": "hours(datum.value) % 3 == 0", "value": 1}, "value": 0},
            "tickColor": "#ffffff", "tickWidth": 1.5,
            "tickSize": {"condition": {"test": "hours(datum.value) % 3 == 0", "value": -10}, "value": -5},
            "labelExpr": "hours(datum.value) % 3 == 0 ? [timeFormat(datum.value, '%m/%d'), timeFormat(datum.value, '%H:%M')] : ''",
            "labelColor": "#ffffff", "labelFont": "Liberation Sans", "labelFontSize": 21, "labelLineHeight": 21,
            "labelPadding": 20, "labelOverlap": false, "labelFlush": false, "labelBound": false,
            "title": "time (month/day hour:minute)", "titleColor": "#ffffff", "titleFont": "Liberation Sans", "titleFontSize": 21, "titleFontWeight": "normal", "titlePadding": 12}
        },
        "y": {"field": "v", "type": "quantitative", "scale": {"domain": [0, 135]},
          "axis": {"orient": "left", "values": [0, 20, 40, 60, 80, 100, 120], "format": ".1f", "domain": false, "grid": false,
            "tickColor": "#ffffff", "tickWidth": 1.5, "tickSize": -10, "labelFlush": false,
            "labelColor": "#ffffff", "labelFont": "Liberation Sans", "labelFontSize": 21, "labelPadding": 23,
            "title": "H / D / Z / F", "titleColor": "#ffffff", "titleFont": "Liberation Sans", "titleFontSize": 21, "titleFontWeight": "normal", "titlePadding": 21}
        },
        "color": {"field": "s", "type": "nominal",
          "scale": {"domain": ["F", "H", "D", "Z", "ΔF"], "range": ["#e8141e", "#f0f000", "#22dd22", "#e01ee0", "#22b4b8"]},
          "legend": {"orient": "none", "legendX": -25, "legendY": 806, "direction": "horizontal", "columns": 5, "title": null, "padding": 0,
            "symbolSize": 0, "symbolStrokeWidth": 0, "symbolOpacity": 0, "labelOffset": 0, "labelLimit": 0,
            "labelFont": "Liberation Sans", "labelFontSize": 25, "columnPadding": 19,
            "labelExpr": "datum.label == 'F' ? 'F= 48133.1 nT           \u200d' : datum.label == 'H' ? 'H= 22692.1 nT' : datum.label == 'D' ? \"D= 289.2 '\" : datum.label == 'Z' ? 'Z= 42496.8 nT       \u200d' : 'ΔF= 42.7 nT'",
            "encode": {"labels": {"update": {"fill": {"scale": "color", "field": "value"}}}}}
        }
      }
    },
    {
      "data": {"values": [{}]},
      "mark": {"type": "text", "text": "Surlari", "font": "Liberation Sans", "fontSize": 31, "color": "#ffffff", "align": "right", "baseline": "alphabetic"},
      "encoding": {
        "x": {"datum": {"year": 2011, "month": 2, "date": 18, "hours": 10, "minutes": 23}, "type": "temporal", "scale": {"domain": [{"year": 2011, "month": 2, "date": 17, "hours": 10, "minutes": 23}, {"year": 2011, "month": 2, "date": 18, "hours": 10, "minutes": 23}]}, "axis": null},
        "y": {"datum": 139.3, "type": "quantitative", "scale": {"domain": [0, 135]}, "axis": null}
      }
    },
    {
      "data": {"values": [{}]},
      "mark": {"type": "text", "text": "year 2011", "font": "Liberation Sans", "fontSize": 21, "color": "#ffffff", "align": "right", "baseline": "alphabetic", "dx": 17},
      "encoding": {
        "x": {"datum": {"year": 2011, "month": 2, "date": 18, "hours": 10, "minutes": 23}, "type": "temporal", "scale": {"domain": [{"year": 2011, "month": 2, "date": 17, "hours": 10, "minutes": 23}, {"year": 2011, "month": 2, "date": 18, "hours": 10, "minutes": 23}]}, "axis": null},
        "y": {"datum": -18.5, "type": "quantitative", "scale": {"domain": [0, 135]}, "axis": null}
      }
    }
  ]
}
